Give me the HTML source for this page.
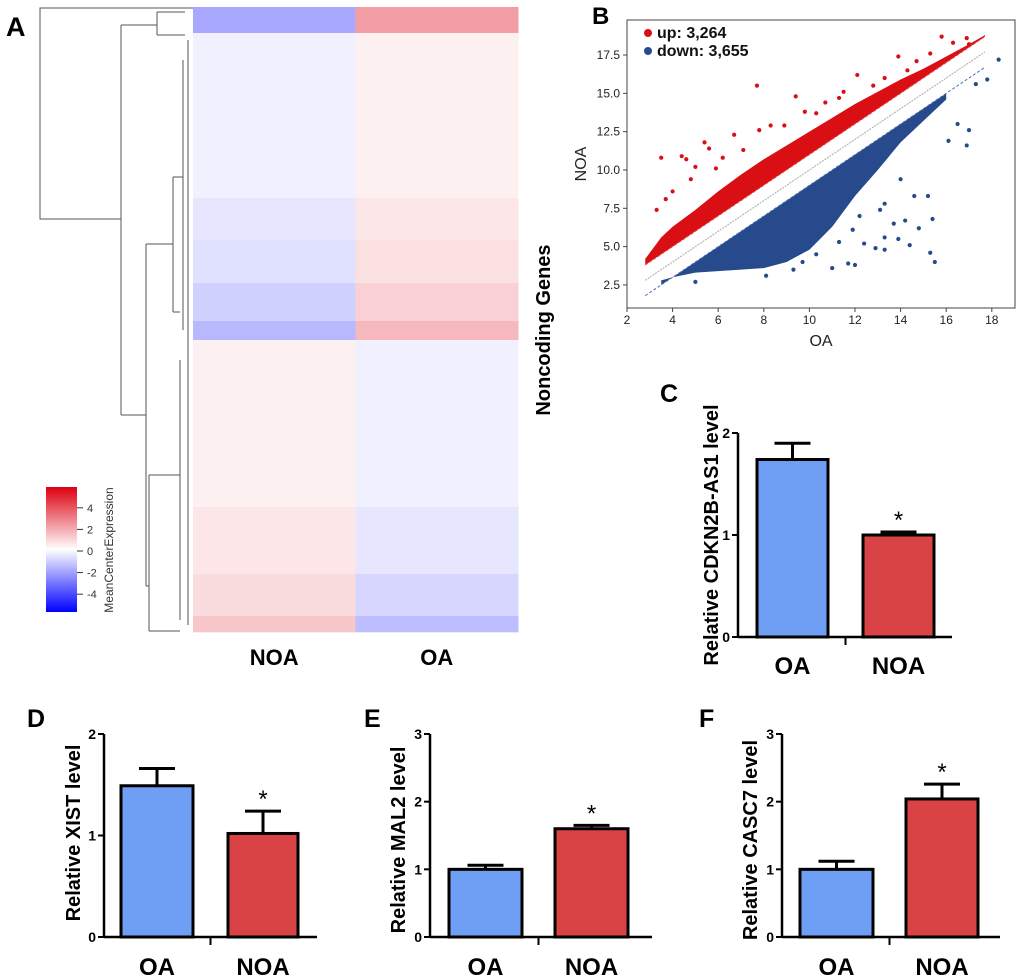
<!DOCTYPE html>
<html><head><meta charset="utf-8">
<style>
html,body{margin:0;padding:0;background:#fff;}
svg{display:block;font-family:"Liberation Sans",Arial,sans-serif;}
</style></head>
<body>
<svg id="fig" width="1020" height="978" viewBox="0 0 1020 978" xmlns="http://www.w3.org/2000/svg">
<defs>
<linearGradient id="cbar" x1="0" y1="1" x2="0" y2="0">
<stop offset="0" stop-color="#0000ff"/><stop offset="0.5" stop-color="#ffffff"/><stop offset="1" stop-color="#dd0010"/>
</linearGradient>
</defs>
<text x="6" y="36" font-size="27" font-weight="bold">A</text>
<text x="592" y="24" font-size="24" font-weight="bold">B</text>
<text x="660" y="402" font-size="25" font-weight="bold">C</text>
<text x="27" y="727" font-size="25" font-weight="bold">D</text>
<text x="364" y="727" font-size="25" font-weight="bold">E</text>
<text x="699" y="727" font-size="25" font-weight="bold">F</text>
<g id="heat"></g>
<g id="dendro" stroke="#555" stroke-width="1" fill="none"></g>
<g id="cbarg"></g>
<g id="scatter"></g>
<g id="bars"></g>
</svg>
<script>
// ---------- Heatmap data ----------
const heatSegmentSizes = [26, 165, 42, 43, 38, 19, 167, 67, 42, 16];
const heatNOA = [-1.7, -0.3, -0.5, -0.6, -0.9, -1.4, 0.3, 0.5, 0.7, 1.1];
const heatOA  = [1.9, 0.3, 0.5, 0.6, 0.9, 1.4, -0.3, -0.5, -0.8, -1.3];
const heatColumns = ['NOA', 'OA'];
const colorTicks = [4, 2, 0, -2, -4];

// ---------- Scatter data ----------
const scatterXTicks = [2, 4, 6, 8, 10, 12, 14, 16, 18];
const scatterYTicks = [2.5, 5.0, 7.5, 10.0, 12.5, 15.0, 17.5];
const upBandX    = [2.8, 3.5, 4, 5, 6, 7, 8, 9, 10, 11, 12, 13, 14, 15, 16, 17, 17.7];
const upBandHigh = [4.2, 5.6, 6.3, 7.4, 8.6, 9.7, 10.7, 11.6, 12.5, 13.4, 14.3, 15.1, 15.9, 16.6, 17.4, 18.2, 18.8];
const downBandX   = [3.5, 4, 5, 6, 7, 8, 9, 10, 11, 12, 13, 14, 15, 16];
const downBandLow = [2.8, 3.0, 3.3, 3.4, 3.5, 3.6, 4.0, 4.8, 6.3, 8.3, 10.0, 11.8, 13.2, 14.6];
const upOutX = [3.5,4.4,4.6,5.4,5.6,6.7,7.7,9.4,9.8,8.3,7.8,6.2,5.0,4.0,3.7,3.3,12.1,13.9,15.8,16.3,17.0,13.3,14.3,14.7,10.7,11.3,11.5,4.8,5.9,7.1,8.9,10.3,12.8,15.3,16.9];
const upOutY = [10.8,10.9,10.7,11.8,11.4,12.3,15.5,14.8,13.8,12.9,12.6,10.8,10.2,8.6,8.1,7.4,16.2,17.4,18.7,18.3,18.2,16.0,16.5,17.1,14.4,14.7,15.1,9.4,10.1,11.3,12.9,13.7,15.5,17.6,18.6];
const downOutX = [15.5,15.3,14.4,13.9,13.3,12.4,12.0,11.7,11.0,8.1,5.0,15.2,14.8,14.6,15.4,14.2,13.7,13.3,11.9,16.9,17.0,16.1,16.5,17.8,18.3,17.3,13.3,12.5,11.8,10.8,10.3,9.7,9.3,12.9,13.1,14.0,10.1,11.3,12.2];
const downOutY = [4.0,4.6,5.1,5.5,4.8,5.2,3.8,3.9,3.6,3.1,2.7,8.3,6.2,8.3,6.8,6.7,6.5,5.6,6.1,11.6,12.6,11.9,13.0,15.9,17.2,15.6,7.8,9.5,8.4,6.6,4.5,4.0,3.5,4.9,7.4,9.4,5.6,5.3,7.0];
const foldLines = [1, 0, -1];

// ---------- Bar chart data ----------
const barCategories = ['OA', 'NOA'];
const cMeans = [1.74, 1.00]; const cErr = [0.16, 0.03];
const dMeans = [1.49, 1.02]; const dErr = [0.17, 0.22];
const eMeans = [1.00, 1.60]; const eErr = [0.06, 0.05];
const fMeans = [1.00, 2.04]; const fErr = [0.12, 0.22];
const cTicks = [0, 1, 2]; const dTicks = [0, 1, 2];
const eTicks = [0, 1, 2, 3]; const fTicks = [0, 1, 2, 3];

const NS = 'http://www.w3.org/2000/svg';
function mk(tag, attrs, parent) {
  const e = document.createElementNS(NS, tag);
  for (const k in attrs) e.setAttribute(k, attrs[k]);
  parent.appendChild(e);
  return e;
}
function heatColor(v) {
  const t = Math.min(Math.abs(v) / 5, 1);
  if (v >= 0) return `rgb(${Math.round(255 - 35 * t)},${Math.round(255 - 255 * t)},${Math.round(255 - 239 * t)})`;
  return `rgb(${Math.round(255 - 255 * t)},${Math.round(255 - 255 * t)},255)`;
}

// ---------- Heatmap ----------
(function () {
  const g = document.getElementById('heat');
  const x0 = 193, x1 = 518, y0 = 7, y1 = 632;
  const colW = (x1 - x0) / heatColumns.length;
  const total = heatSegmentSizes.reduce((a, b) => a + b, 0);
  const yS = v => y0 + (v / total) * (y1 - y0);
  let acc = 0;
  heatSegmentSizes.forEach((s, i) => {
    const vals = [heatNOA[i], heatOA[i]];
    vals.forEach((v, c) => {
      const r = mk('rect', { x: x0 + c * colW, y: yS(acc), width: colW + 0.5, height: yS(acc + s) - yS(acc) + 0.3, fill: heatColor(v) }, g);
      
      
    });
    acc += s;
  });
  heatColumns.forEach((c, i) => {
    const t = mk('text', { x: x0 + colW * (i + 0.5), y: 665, 'font-size': 22, 'font-weight': 'bold', 'text-anchor': 'middle' }, g);
    t.textContent = c;
    
    
  });
  const yt = mk('text', { x: 550, y: 330, 'font-size': 20, 'font-weight': 'bold', 'text-anchor': 'middle', transform: 'rotate(-90 550 330)' }, g);
  yt.textContent = 'Noncoding Genes';
  
  

  const d = document.getElementById('dendro');
  const segs = [
    'M193 8 H40 V219 H121', 'M121 25 V415', 'M121 25 H157 M157 12 V35 M157 12 H185 M157 35 H185',
    'M121 415 H146', 'M146 244 V586', 'M146 244 H173 M173 177 V312 M173 177 H183 M173 312 H180',
    'M146 586 H149 M149 475 V631 M149 475 H180 M149 631 H180',
    'M183 60 V330 M180 360 V620 M188 40 V625'
  ];
  segs.forEach(p => mk('path', { d: p }, d));

  const cb = document.getElementById('cbarg');
  const r = mk('rect', { x: 46, y: 487, width: 31, height: 125, fill: 'url(#cbar)' }, cb);
  
  
  const cy = v => 551 - v * 10.8;
  colorTicks.forEach(v => {
    mk('line', { x1: 77, x2: 83, y1: cy(v), y2: cy(v), stroke: '#333', 'stroke-width': 1 }, cb);
    const t = mk('text', { x: 87, y: cy(v) + 4, 'font-size': 11, fill: '#333' }, cb);
    t.textContent = v;
    
    
  });
  const ct = mk('text', { x: 113, y: 550, 'font-size': 12, fill: '#333', 'text-anchor': 'middle', transform: 'rotate(-90 113 550)' }, cb);
  ct.textContent = 'MeanCenterExpression';
  
  
})();

// ---------- Scatter ----------
(function () {
  const g = document.getElementById('scatter');
  const sx = v => 627 + (v - 2) * 22.8;
  const sy = v => 55 + (17.5 - v) * 15.33;
  const frame = mk('rect', { x: 627, y: 20, width: 388, height: 288, fill: 'none', stroke: '#444', 'stroke-width': 1 }, g);
  
  
  scatterXTicks.forEach(v => {
    mk('line', { x1: sx(v), x2: sx(v), y1: 308, y2: 312, stroke: '#444' }, g);
    const t = mk('text', { x: sx(v), y: 324, 'font-size': 12, 'text-anchor': 'middle', fill: '#222' }, g);
    t.textContent = v;
    
    
  });
  scatterYTicks.forEach(v => {
    mk('line', { x1: 623, x2: 627, y1: sy(v), y2: sy(v), stroke: '#444' }, g);
    const t = mk('text', { x: 620, y: sy(v) + 4, 'font-size': 12, 'text-anchor': 'end', fill: '#222' }, g);
    t.textContent = v.toFixed(1);
    
    
  });
  const xl = mk('text', { x: 821, y: 346, 'font-size': 16, 'text-anchor': 'middle', fill: '#222' }, g);
  xl.textContent = 'OA';
  
  
  const yl = mk('text', { x: 586, y: 164, 'font-size': 16, 'text-anchor': 'middle', fill: '#222', transform: 'rotate(-90 586 164)' }, g);
  yl.textContent = 'NOA';
  
  

  let p = upBandX.map((x, i) => sx(x) + ',' + sy(upBandHigh[i]));
  p = p.concat(upBandX.slice().reverse().map(x => sx(x) + ',' + sy(x + 1)));
  const ub = mk('polygon', { points: p.join(' '), fill: '#d90f14' }, g);
  
  
  let q = downBandX.map(x => sx(x) + ',' + sy(x - 1));
  q = q.concat(downBandX.slice().reverse().map((x, i) => sx(x) + ',' + sy(downBandLow[downBandX.length - 1 - i])));
  const db = mk('polygon', { points: q.join(' '), fill: '#274a8c' }, g);
  
  
  upOutX.forEach((x, i) => {
    const c = mk('circle', { cx: sx(x), cy: sy(upOutY[i]), r: 2.1, fill: '#d90f14' }, g);
    
    
  });
  downOutX.forEach((x, i) => {
    const c = mk('circle', { cx: sx(x), cy: sy(downOutY[i]), r: 2.1, fill: '#274a8c' }, g);
    
    
  });
  const lc = ['#e05050', '#aaaaaa', '#5070b0'];
  foldLines.forEach((o, i) => {
    const l = mk('line', { x1: sx(2.8), y1: sy(2.8 + o), x2: sx(17.7), y2: sy(17.7 + o), stroke: lc[i], 'stroke-width': 1, 'stroke-dasharray': i === 1 ? '2,1' : '3,2' }, g);
    
    
  });
  const leg = [['#d90f14', 'up: 3,264', 38], ['#274a8c', 'down: 3,655', 56]];
  leg.forEach(([col, txt, y]) => {
    const c = mk('circle', { cx: 648, cy: y - 5, r: 4, fill: col }, g);
    
    
    const t = mk('text', { x: 657, y: y, 'font-size': 16, 'font-weight': 'bold', fill: '#111' }, g);
    t.textContent = txt;
    
    
  });
})();

// ---------- Bar charts ----------
function barChart(id, cfg, means, errs, ticks) {
  const g = mk('g', {}, document.getElementById('bars'));
  
  
  const ymax = ticks[ticks.length - 1];
  const sy = v => cfg.y0 - (v / ymax) * (cfg.y0 - cfg.yTop);
  means.forEach((m, i) => {
    const [bx0, bx1] = cfg.bars[i];
    const cx = (bx0 + bx1) / 2;
    const top = sy(m + errs[i]);
    mk('line', { x1: cx, x2: cx, y1: sy(m), y2: top, stroke: '#000', 'stroke-width': 3 }, g);
    mk('line', { x1: cx - 18, x2: cx + 18, y1: top, y2: top, stroke: '#000', 'stroke-width': 3 }, g);
    const r = mk('rect', { x: bx0, y: sy(m), width: bx1 - bx0, height: cfg.y0 - sy(m), fill: i === 0 ? '#6f9ef5' : '#d94345', stroke: '#000', 'stroke-width': 3 }, g);
    
    
    const t = mk('text', { x: cx, y: cfg.labelY, 'font-size': 24, 'font-weight': 'bold', 'text-anchor': 'middle' }, g);
    t.textContent = barCategories[i];
    
    
    if (i === 1) {
      const s = mk('text', { x: cx, y: top - 4, 'font-size': 24, 'text-anchor': 'middle' }, g);
      s.textContent = '*';
      
      
    }
  });
  mk('line', { x1: cfg.ax, x2: cfg.ax, y1: cfg.yTop, y2: cfg.y0 + 1, stroke: '#000', 'stroke-width': 2.5 }, g);
  mk('line', { x1: cfg.ax, x2: cfg.axEnd, y1: cfg.y0, y2: cfg.y0, stroke: '#000', 'stroke-width': 2.5 }, g);
  const mid = (cfg.bars[0][1] + cfg.bars[1][0]) / 2;
  mk('line', { x1: mid, x2: mid, y1: cfg.y0, y2: cfg.y0 + 8, stroke: '#000', 'stroke-width': 2 }, g);
  ticks.forEach(v => {
    mk('line', { x1: cfg.ax - 6, x2: cfg.ax, y1: sy(v), y2: sy(v), stroke: '#000', 'stroke-width': 2 }, g);
    const t = mk('text', { x: cfg.ax - 8, y: sy(v) + 5, 'font-size': 14, 'font-weight': 'bold', 'text-anchor': 'end' }, g);
    t.textContent = v;
    
    
  });
  const ty = mk('text', { x: cfg.titleX, y: cfg.titleY, 'font-size': 20, 'font-weight': 'bold', 'text-anchor': 'middle', transform: `rotate(-90 ${cfg.titleX} ${cfg.titleY})` }, g);
  ty.textContent = cfg.title;
  
  
}
barChart('bar-chart-c', { ax: 738, axEnd: 952, y0: 637, yTop: 433, bars: [[757, 828], [863, 934]], labelY: 674, titleX: 718, titleY: 535, title: 'Relative CDKN2B-AS1 level' }, cMeans, cErr, cTicks);
barChart('bar-chart-d', { ax: 104, axEnd: 317, y0: 937, yTop: 734, bars: [[121, 193], [228, 298]], labelY: 975, titleX: 80, titleY: 833, title: 'Relative XIST level' }, dMeans, dErr, dTicks);
barChart('bar-chart-e', { ax: 430, axEnd: 652, y0: 937, yTop: 734, bars: [[449, 522], [555, 628]], labelY: 975, titleX: 405, titleY: 840, title: 'Relative MAL2 level' }, eMeans, eErr, eTicks);
barChart('bar-chart-f', { ax: 782, axEnd: 1000, y0: 937, yTop: 734, bars: [[800, 873], [906, 978]], labelY: 975, titleX: 757, titleY: 840, title: 'Relative CASC7 level' }, fMeans, fErr, fTicks);
</script>
</body></html>
